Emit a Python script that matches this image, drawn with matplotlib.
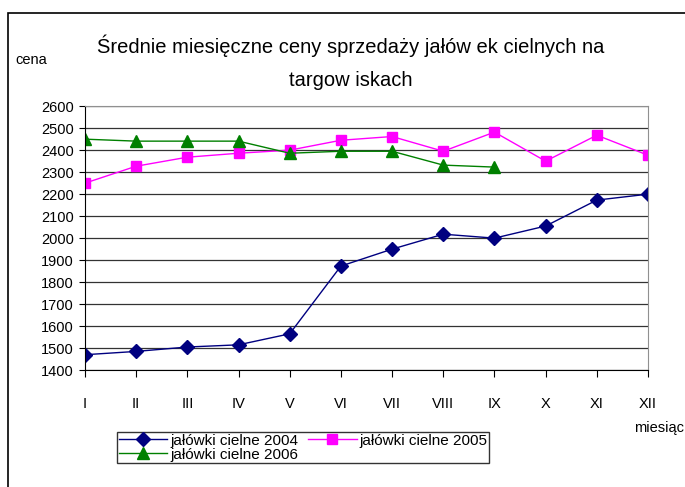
import matplotlib.pyplot as plt
from matplotlib.patches import Rectangle

plt.rcParams['font.family'] = ['Liberation Sans', 'DejaVu Sans']

# data
months = ['I', 'II', 'III', 'IV', 'V', 'VI', 'VII', 'VIII', 'IX', 'X', 'XI', 'XII']
ceny_2004 = [1470, 1485, 1505, 1515, 1565, 1873, 1950, 2018, 2000, 2055, 2173, 2200]
ceny_2005 = [2250, 2327, 2368, 2386, 2400, 2445, 2462, 2395, 2482, 2350, 2468, 2377]
ceny_2006 = [2450, 2441, 2441, 2441, 2386, 2395, 2395, 2332, 2323]
y_ticks = list(range(1400, 2601, 100))

fig = plt.figure(figsize=(6.85, 4.87), dpi=100)
ax = fig.add_axes([0.124, 0.240, 0.822, 0.542])

x = list(range(len(months)))
l04, = ax.plot(x, ceny_2004, '-D', color='#000080', lw=1, ms=7, label='jałówki cielne 2004')
l05, = ax.plot(x, ceny_2005, '-s', color='#ff00ff', lw=1, ms=7, label='jałówki cielne 2005')
l06, = ax.plot(x[:len(ceny_2006)], ceny_2006, '-^', color='#008000', lw=1, ms=8,
               label='jałówki cielne 2006')

ax.set_xlim(0, 11)
ax.set_ylim(1400, 2600)
ax.set_yticks(y_ticks)
ax.set_xticks(x)
ax.set_xticklabels(months)
ax.tick_params(axis='x', direction='out', length=5, pad=14, labelsize=10.5)
ax.tick_params(axis='y', direction='out', length=4, pad=4, labelsize=10.5)
ax.grid(axis='y', color='#333333', lw=0.9)
ax.set_axisbelow(True)

for side in ['top', 'right']:
    ax.spines[side].set_color('#909090')
for side in ['left', 'bottom']:
    ax.spines[side].set_color('black')

# outer chart frame
fig.patches.append(Rectangle((8 / 685, -0.01), 1.0, 1 - 13 / 487 + 0.01,
                             transform=fig.transFigure, fill=False,
                             edgecolor='black', lw=1.2))

fig.text(0.512, 0.907, 'Średnie miesięczne ceny sprzedaży jałów ek cielnych na',
         ha='center', va='center', fontsize=14.5)
fig.text(0.512, 0.835, 'targow iskach', ha='center', va='center', fontsize=14.5)
fig.text(0.022, 0.877, 'cena', ha='left', va='center', fontsize=10.5)
fig.text(0.998, 0.122, 'miesiąc', ha='right', va='center', fontsize=10.5)

# column-major fill -> 2004, 2005 on first row, 2006 below
leg = fig.legend([l04, l06, l05], [l04.get_label(), l06.get_label(), l05.get_label()],
                 loc='upper left', bbox_to_anchor=(117 / 685, 1 - 432 / 487), ncol=2,
                 frameon=True, fancybox=False, fontsize=11, borderpad=0.1,
                 handlelength=3.2, handletextpad=0.2, columnspacing=0.6,
                 labelspacing=0.0, borderaxespad=0)
leg.get_frame().set_edgecolor('black')
leg.get_frame().set_linewidth(1)

fig.savefig('out.png', dpi=100)
